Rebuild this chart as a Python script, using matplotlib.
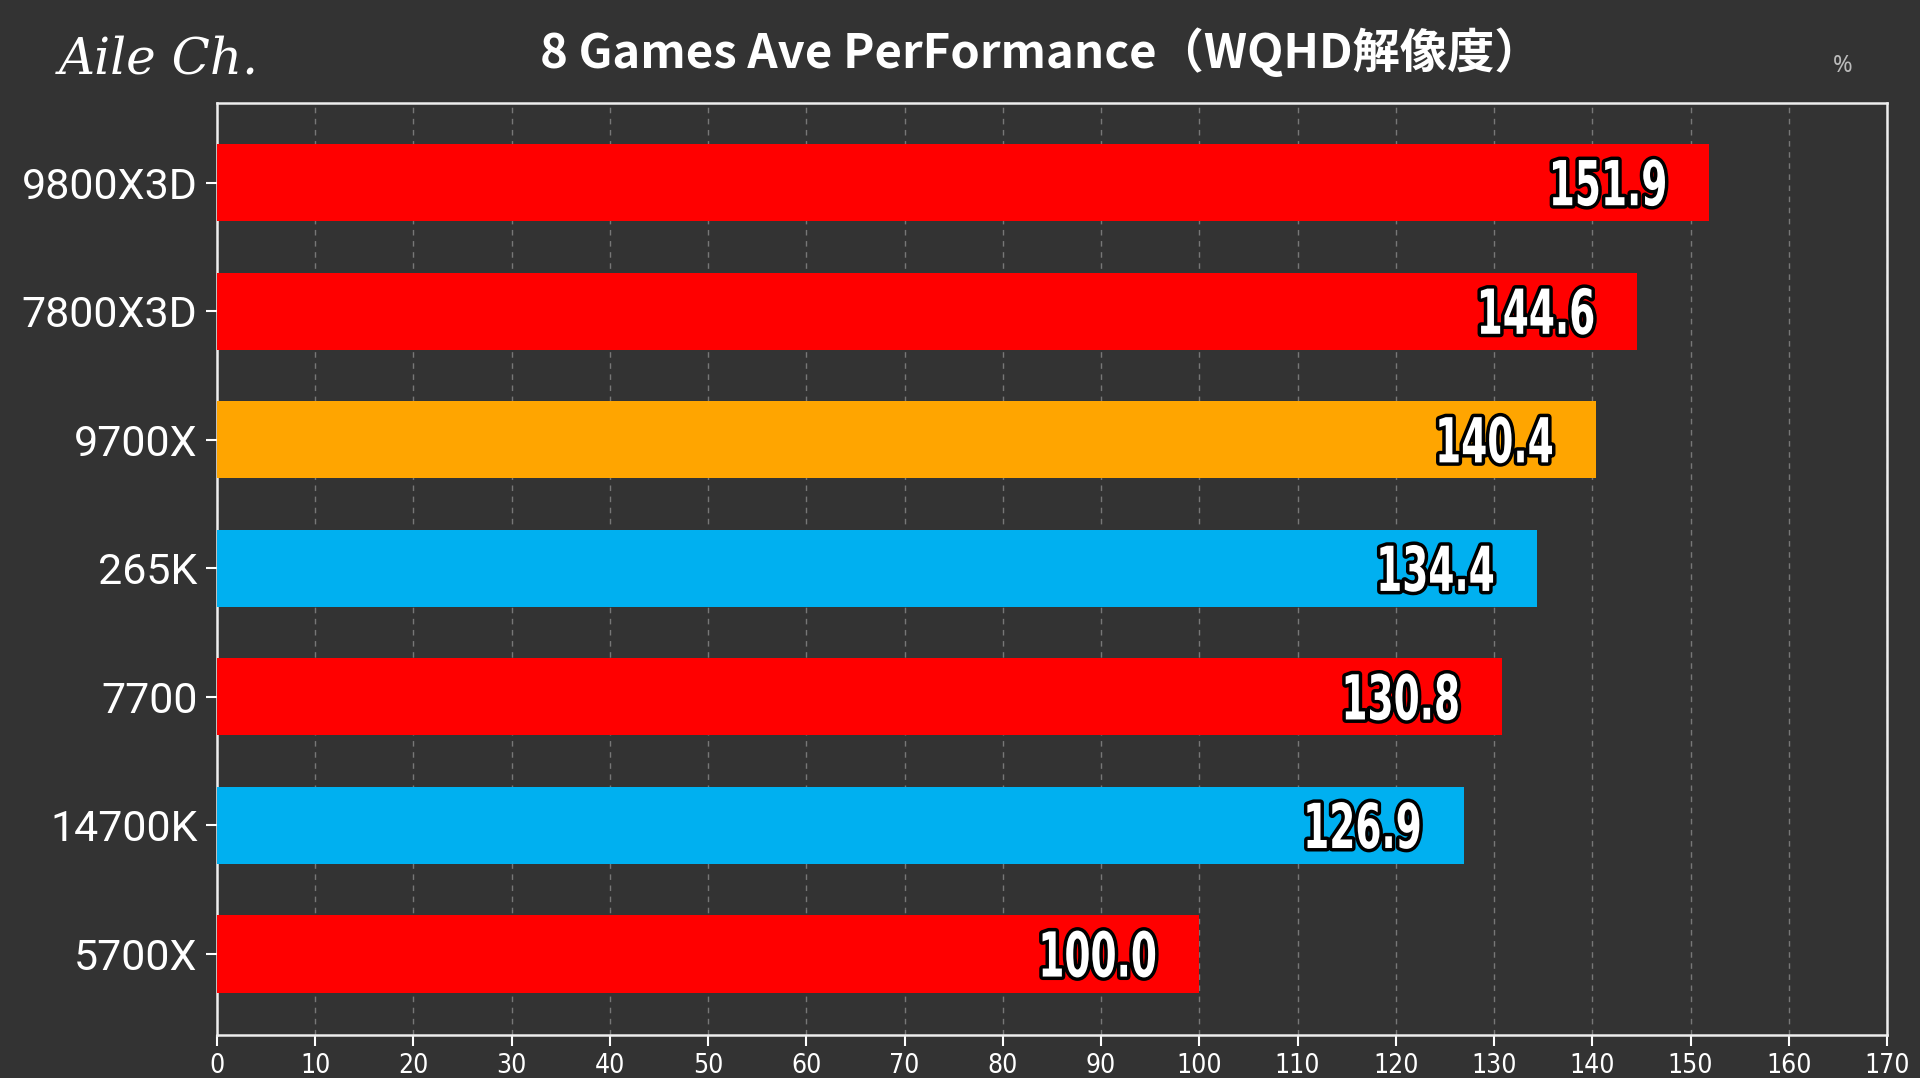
import matplotlib.pyplot as plt
import matplotlib.transforms as mtransforms
from matplotlib import font_manager
from matplotlib.font_manager import FontProperties
from matplotlib.textpath import TextPath
from matplotlib.patches import PathPatch

# data
cpus = ["9800X3D", "7800X3D", "9700X", "265K", "7700", "14700K", "5700X"]
scores = [151.9, 144.6, 140.4, 134.4, 130.8, 126.9, 100.0]
colors = ["#FF0000", "#FF0000", "#FFA500", "#00B0F0", "#FF0000", "#00B0F0", "#FF0000"]
xticks = list(range(0, 171, 10))

title = "8 Games Ave PerFormance（WQHD解像度）"
bg = "#333333"

# condensed face for the numbers, if there is one
cond = [f for f in font_manager.fontManager.ttflist
        if f.stretch == "condensed" or "Condensed" in f.name or "Narrow" in f.name]
narrow = cond[0].name if cond else "DejaVu Sans"

fig = plt.figure(figsize=(19.2, 10.78), dpi=100, facecolor=bg)
ax = fig.add_axes([217 / 1920, 1 - 1035 / 1078, 1670 / 1920, 932 / 1078])
ax.set_facecolor(bg)

ypos = list(range(len(cpus)))
ax.barh(ypos, scores, height=0.6, color=colors, zorder=3)

ax.set_xlim(0, 170)
ax.set_ylim(6.63, -0.62)
ax.set_xticks(xticks)
ax.set_yticks(ypos)
ax.set_yticklabels(cpus, fontfamily="Roboto", fontsize=31, color="white")
ax.set_xticklabels([str(t) for t in xticks], fontfamily=narrow, fontstretch="condensed",
                   fontsize=19, color="white")
ax.tick_params(axis="x", colors="white", length=8, width=1.5, pad=5)
ax.tick_params(axis="y", colors="white", length=8, width=1.5, pad=6)

ax.grid(axis="x", linestyle=(0, (4, 4)), color="#777777", linewidth=1, zorder=1)
for s in ax.spines.values():
    s.set_color("#EEEEEE")
    s.set_linewidth(1.8)

# value labels: squeezed glyph outlines so they look like the condensed original
prop = FontProperties(family=narrow, weight="bold", stretch="condensed")
ref = TextPath((0, 0), "151.9", size=62, prop=prop).get_extents()
sx = 112 / ref.width
for y, v in zip(ypos, scores):
    tp = TextPath((0, 0), f"{v:.1f}", size=62, prop=prop)
    ext = tp.get_extents()
    tr = (mtransforms.Affine2D()
          .translate(-ext.x1, -(ext.y0 + ext.y1) / 2)
          .scale(sx, 1)
          + mtransforms.ScaledTranslation(v - 4.5, y, ax.transData))
    ax.add_patch(PathPatch(tp, transform=tr, facecolor="black", edgecolor="black",
                           linewidth=5, joinstyle="round", zorder=4, clip_on=False))
    ax.add_patch(PathPatch(tp, transform=tr, facecolor="white", edgecolor="none",
                           zorder=5, clip_on=False))

fig.text(1041 / 1920, 1 - 53 / 1078, title, ha="center", va="center",
         fontfamily=["Noto Sans CJK JP", "DejaVu Sans"], fontweight="bold",
         fontsize=34, color="white")
fig.text(59 / 1920, 1 - 60 / 1078, "Aile Ch.", ha="left", va="center",
         fontfamily="DejaVu Serif", style="italic", fontsize=36, color="white")
fig.text(1843 / 1920, 1 - 66 / 1078, "%", ha="center", va="center",
         fontfamily="Noto Sans", fontsize=17, color="#BBBBBB")

fig.savefig("out.png", dpi=100, facecolor=bg)
